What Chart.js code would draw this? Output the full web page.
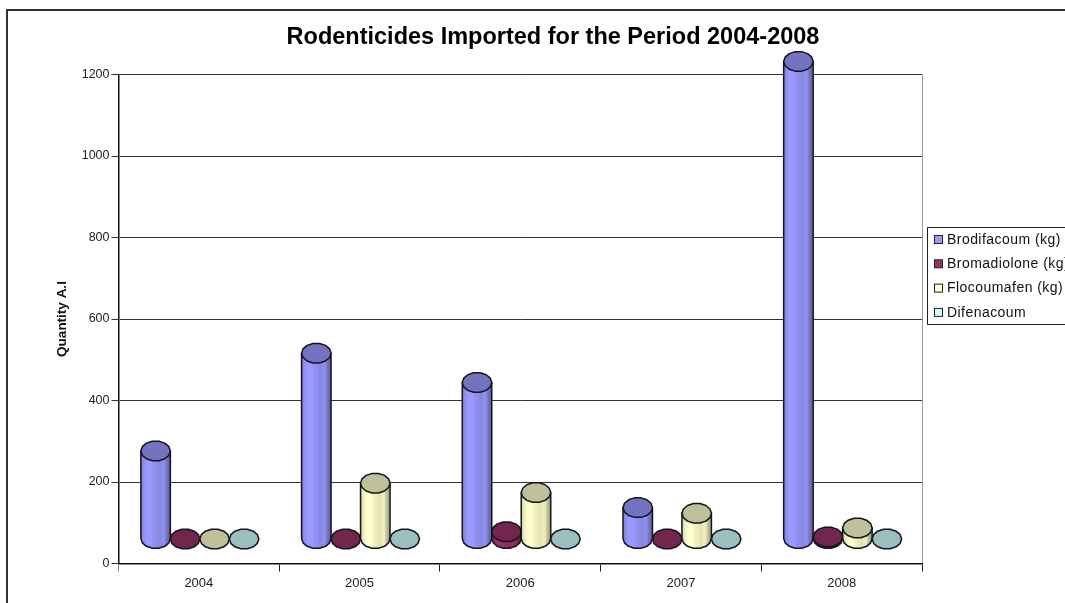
<!DOCTYPE html>
<html>
<head>
<meta charset="utf-8">
<title>Rodenticides Imported</title>
<script src="https://cdn.jsdelivr.net/npm/chart.js@4/dist/chart.umd.js"></script>
<style>
  html, body { margin: 0; padding: 0; background: #fff; overflow: hidden; }
  canvas { display: block; }
</style>
</head>
<body>
<canvas id="chart" width="1065" height="603"></canvas>
<script>
const years = ["2004", "2005", "2006", "2007", "2008"];
const seriesNames = ["Brodifacoum (kg)", "Bromadiolone (kg)", "Flocoumafen (kg)", "Difenacoum"];

const brodifacoum = [216, 456, 384, 77, 1172];
const bromadiolone = [0, 0, 18, 0, 5];
const flocoumafen = [0, 137, 114, 63, 27];
const difenacoum = [0, 0, 0, 0, 0];

const seriesValues = [brodifacoum, bromadiolone, flocoumafen, difenacoum];
const seriesColors = [[153, 153, 255], [153, 51, 102], [255, 255, 204], [204, 255, 255]];

const FONT = '"Liberation Sans", Arial, sans-serif';
const LIFT = 24.5; // the cylinders stand on a floor in front of the back wall
const CAP_RY = 10;

function shade(rgb, k) {
  return "rgb(" + rgb.map(function (c) { return Math.round(c * k); }).join(",") + ")";
}

// flat-topped polygon, gives the caps their slightly faceted look
function capPath(ctx, cx, cy, rx, ry) {
  const sides = 14;
  ctx.beginPath();
  for (let i = 0; i < sides; i++) {
    const a = (i / sides) * Math.PI * 2;
    ctx.lineTo(cx + Math.cos(a) * rx, cy + Math.sin(a) * ry);
  }
  ctx.closePath();
}

function drawCylinder(ctx, x, top, base, width, rgb) {
  const rx = width / 2;
  const left = x - rx;
  const right = x + rx;
  ctx.lineWidth = 1.5;
  ctx.strokeStyle = "#15151f";
  ctx.lineJoin = "round";

  if (base - top > 0.5) {
    const g = ctx.createLinearGradient(left, 0, right, 0);
    const bands = [[0, 0.82], [0.1, 0.93], [0.2, 1], [0.38, 1], [0.4, 0.96], [0.68, 0.88], [0.7, 0.93], [0.82, 0.92], [0.84, 0.82], [1, 0.6]];
    bands.forEach(function (b) { g.addColorStop(b[0], shade(rgb, b[1])); });
    ctx.beginPath();
    ctx.moveTo(left, top);
    ctx.lineTo(left, base);
    const sides = 14;
    for (let i = 1; i < sides / 2; i++) {
      const a = (i / sides) * Math.PI * 2;
      ctx.lineTo(x - Math.cos(a) * rx, base + Math.sin(a) * CAP_RY);
    }
    ctx.lineTo(right, base);
    ctx.lineTo(right, top);
    ctx.closePath();
    ctx.fillStyle = g;
    ctx.fill();
    ctx.stroke();
  }

  capPath(ctx, x, top, rx, CAP_RY);
  ctx.fillStyle = shade(rgb, 0.75);
  ctx.fill();
  ctx.stroke();
}

const cylinders = {
  id: "cylinders",
  afterDatasetsDraw: function (chart) {
    const ctx = chart.ctx;
    ctx.save();
    chart.data.datasets.forEach(function (ds, i) {
      chart.getDatasetMeta(i).data.forEach(function (bar) {
        drawCylinder(ctx, bar.x + 1, bar.y - LIFT, bar.base - LIFT, bar.width, seriesColors[i]);
      });
    });
    ctx.restore();
  },
};

const frame = {
  id: "frame",
  afterLayout: function (chart) {
    // centre the title on the whole frame, not on the plot
    chart.titleBlock.left += 71.5;
    chart.titleBlock.right += 71.5;
  },
  beforeDraw: function (chart) {
    const ctx = chart.ctx;
    const area = chart.chartArea;
    ctx.save();
    ctx.fillStyle = "#fff";
    ctx.fillRect(0, 0, chart.width, chart.height);
    ctx.strokeStyle = "#333";
    ctx.lineWidth = 2;
    ctx.strokeRect(7, 10, chart.width + 20, chart.height + 20);
    // light closing edge on the right of the wall
    ctx.strokeStyle = "#999";
    ctx.lineWidth = 1;
    ctx.beginPath();
    ctx.moveTo(area.right + 0.5, area.top);
    ctx.lineTo(area.right + 0.5, area.bottom + 8);
    ctx.stroke();
    ctx.restore();
  },
  afterDraw: function (chart) {
    const ctx = chart.ctx;
    ctx.save();
    ctx.fillStyle = "#fff";
    ctx.strokeStyle = "#222";
    ctx.lineWidth = 1;
    ctx.fillRect(927.5, 227.5, 150, 97);
    ctx.strokeRect(927.5, 227.5, 150, 97);
    ctx.font = "14px " + FONT;
    ctx.letterSpacing = "0.45px";
    ctx.textBaseline = "middle";
    chart.data.datasets.forEach(function (ds, i) {
      const y = 240 + i * 24.3;
      ctx.fillStyle = shade(seriesColors[i], 1);
      ctx.fillRect(934.5, y - 4.5, 8, 8);
      ctx.strokeStyle = "#222";
      ctx.strokeRect(934.5, y - 4.5, 8, 8);
      ctx.fillStyle = "#111";
      ctx.fillText(ds.label, 947, y);
    });
    ctx.restore();
  },
};

new Chart(document.getElementById("chart").getContext("2d"), {
  type: "bar",
  data: {
    labels: years,
    datasets: seriesNames.map(function (name, i) {
      return {
        label: name,
        data: seriesValues[i],
        backgroundColor: "transparent",
        borderWidth: 0,
        barPercentage: 1,
        categoryPercentage: 0.734,
      };
    }),
  },
  options: {
    responsive: false,
    animation: false,
    layout: { padding: { left: 41, right: 143, top: 0, bottom: 0 } },
    scales: {
      x: {
        afterFit: function (scale) { scale.height = 39.5; },
        grid: {
          drawOnChartArea: false,
          color: function (context) {
            return context.index === 0 || context.index === years.length ? "#888" : "#222";
          },
          lineWidth: 1,
          tickLength: 8,
        },
        border: { color: "#111", width: 1.5 },
        ticks: { color: "#222", font: { family: FONT, size: 13 }, padding: 4, maxRotation: 0 },
      },
      y: {
        min: 0,
        max: 1200,
        afterFit: function (scale) { scale.width = 77.5; },
        grid: { color: "#333", lineWidth: 1, tickLength: 7 },
        border: { color: "#111", width: 1.5 },
        ticks: {
          stepSize: 200,
          color: "#222",
          font: { family: FONT, size: 12.5 },
          padding: 2,
          format: { useGrouping: false },
        },
        title: {
          display: true,
          text: "Quantity A.I",
          color: "#111",
          font: { family: FONT, size: 13.5, weight: "bold" },
          padding: { top: 13, bottom: 0 },
        },
      },
    },
    plugins: {
      legend: { display: false },
      tooltip: { enabled: false },
      title: {
        display: true,
        text: "Rodenticides Imported for the Period 2004-2008",
        color: "#000",
        font: { family: FONT, size: 23.5, weight: "bold" },
        padding: { top: 23.4, bottom: 22.9 },
      },
    },
  },
  plugins: [frame, cylinders],
});
</script>
</body>
</html>
